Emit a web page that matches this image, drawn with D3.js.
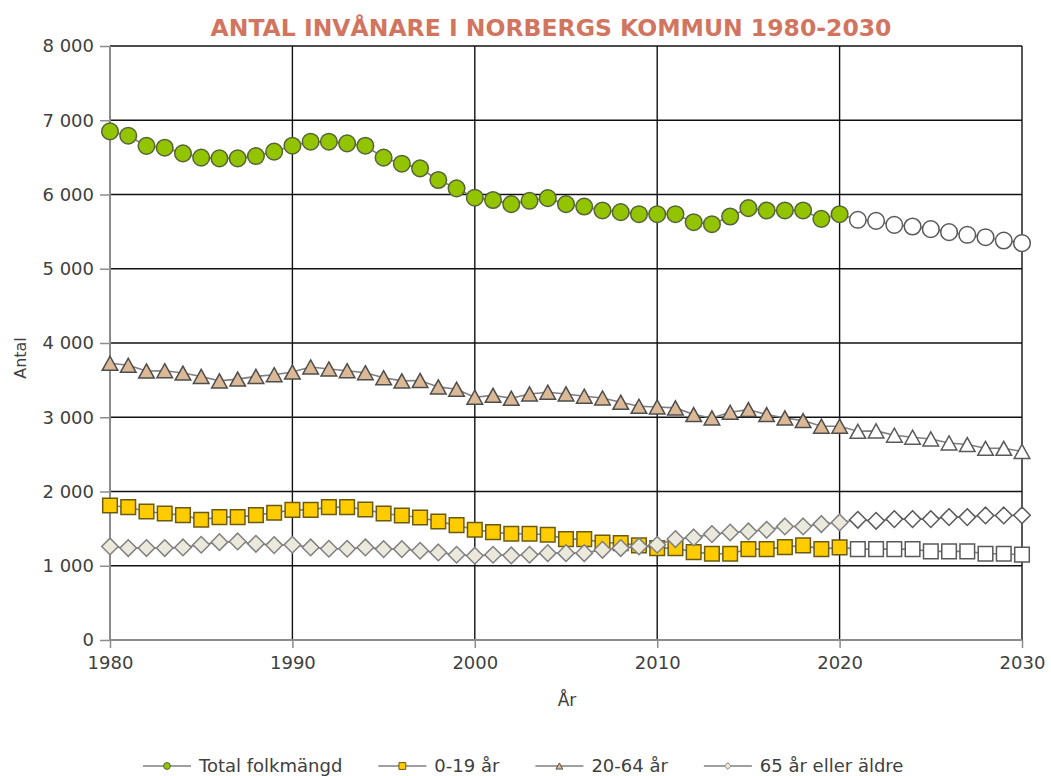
<!DOCTYPE html>
<html>
<head>
<meta charset="utf-8">
<script src="https://cdn.jsdelivr.net/npm/d3@7"></script>
<style>
  body { margin: 0; background: #fff; }
  text { font-family: "DejaVu Sans", sans-serif; fill: #404040; }
</style>
</head>
<body>
<svg id="chart" width="1051" height="776"></svg>
<script>
"use strict"

// data
const years = d3.range(1980, 2031)
const lastObserved = 2020

const total = [6850, 6792, 6655, 6630, 6554, 6496, 6487, 6487, 6518, 6577,
  6657, 6711, 6711, 6688, 6657, 6496, 6415, 6352, 6195, 6083,
  5957, 5926, 5870, 5915, 5951, 5870, 5838, 5785, 5762, 5735,
  5735, 5735, 5627, 5600, 5704, 5816, 5785, 5785, 5785, 5672,
  5735, 5659, 5645, 5591, 5569, 5533, 5493, 5457, 5425, 5380, 5345]

const age0_19 = [1812, 1789, 1731, 1704, 1682, 1619, 1655, 1655, 1682, 1713,
  1753, 1753, 1789, 1789, 1758, 1704, 1677, 1650, 1596, 1547,
  1484, 1453, 1430, 1430, 1417, 1359, 1359, 1314, 1305, 1274,
  1238, 1238, 1184, 1161, 1161, 1224, 1224, 1251, 1274, 1224,
  1247, 1224, 1224, 1224, 1224, 1193, 1193, 1193, 1161, 1161, 1150]

const age20_64 = [3727, 3700, 3623, 3627, 3595, 3550, 3490, 3514, 3550, 3573,
  3609, 3677, 3650, 3627, 3600, 3532, 3490, 3495, 3409, 3377,
  3270, 3295, 3256, 3314, 3337, 3314, 3283, 3260, 3202, 3148,
  3139, 3126, 3036, 2991, 3067, 3103, 3036, 2991, 2955, 2879,
  2879, 2811, 2816, 2758, 2731, 2708, 2654, 2632, 2582, 2582, 2540]

const age65 = [1260, 1238, 1238, 1238, 1247, 1283, 1318, 1327, 1296, 1278,
  1283, 1247, 1229, 1229, 1247, 1224, 1224, 1202, 1179, 1148,
  1135, 1148, 1139, 1148, 1170, 1170, 1170, 1215, 1238, 1260,
  1283, 1359, 1381, 1426, 1448, 1462, 1484, 1529, 1529, 1561,
  1583, 1619, 1605, 1628, 1628, 1628, 1655, 1655, 1677, 1677, 1680]

const seriesNames = ["Total folkmängd", "0-19 år", "20-64 år", "65 år eller äldre"]
const yTicks = [0, 1000, 2000, 3000, 4000, 5000, 6000, 7000, 8000]
const xTicks = [1980, 1990, 2000, 2010, 2020, 2030]

const series = [
  { name: seriesNames[0], values: total, shape: "circle", fill: "#92c500", stroke: "#56633a", size: 8.3 },
  { name: seriesNames[1], values: age0_19, shape: "square", fill: "#ffcc00", stroke: "#6b5a12", size: 7.3 },
  { name: seriesNames[2], values: age20_64, shape: "triangle", fill: "#dbb896", stroke: "#4d4d4d", size: 7.8 },
  { name: seriesNames[3], values: age65, shape: "diamond", fill: "#ebe8dc", stroke: "#808080", size: 8.3 },
]

const width = 1051
const height = 776
const margin = { top: 46, right: 29, bottom: 136, left: 110 }

const svg = d3.select("#chart")

const x = d3.scaleLinear().domain([1980, 2030]).range([margin.left, width - margin.right])
const y = d3.scaleLinear().domain([0, 8000]).range([height - margin.bottom, margin.top])

const locale = d3.formatLocale({ decimal: ",", thousands: "\u00a0", grouping: [3], currency: ["", ""] })
const fmt = locale.format(",")

function shapePath(shape, r) {
  if (shape === "circle") {
    return d3.symbol(d3.symbolCircle, Math.PI * r * r)()
  }
  if (shape === "square") {
    return `M${-r},${-r}H${r}V${r}H${-r}Z`
  }
  if (shape === "triangle") {
    return `M0,${-r * 0.9}L${r},${r * 0.9}L${-r},${r * 0.9}Z`
  }
  return `M0,${-r}L${r},0L0,${r}L${-r},0Z`
}

// title
svg.append("text")
  .attr("x", 551)
  .attr("y", 36)
  .attr("text-anchor", "middle")
  .style("font-size", "23.5px")
  .style("font-weight", "bold")
  .style("fill", "#d27560")
  .text("ANTAL INVÅNARE I NORBERGS KOMMUN 1980-2030")

// gridlines
const grid = svg.append("g")
grid.selectAll("line.h")
  .data(yTicks.filter(d => d > 0))
  .enter().append("line")
    .attr("x1", x(1980)).attr("x2", x(2030))
    .attr("y1", d => y(d)).attr("y2", d => y(d))
    .attr("stroke", "#111").attr("stroke-width", 1.4)
grid.selectAll("line.v")
  .data(xTicks.filter(d => d > 1980))
  .enter().append("line")
    .attr("x1", d => x(d)).attr("x2", d => x(d))
    .attr("y1", y(8000)).attr("y2", y(0))
    .attr("stroke", "#111").attr("stroke-width", 1.4)

// axes
const yAxis = svg.append("g")
  .attr("transform", `translate(${x(1980)},0)`)
  .call(d3.axisLeft(y).tickValues(yTicks).tickFormat(fmt).tickSize(10).tickPadding(6))
const xAxis = svg.append("g")
  .attr("transform", `translate(0,${y(0)})`)
  .call(d3.axisBottom(x).tickValues(xTicks).tickFormat(d3.format("d")).tickSize(8).tickPadding(8))

;[yAxis, xAxis].forEach(a => {
  a.select(".domain").attr("stroke", "#8c8c8c").attr("stroke-width", 2)
  a.selectAll(".tick line").attr("stroke", "#8c8c8c").attr("stroke-width", 1.5)
  a.selectAll(".tick text").style("font-size", "18px").style("font-family", "DejaVu Sans").attr("fill", "#404040")
})
xAxis.select(".domain").attr("d", `M${x(1980)},0H${x(2030)}`)
yAxis.select(".domain").attr("d", `M0,${y(0)}V${y(8000)}`)

// axis titles
svg.append("text")
  .attr("transform", `translate(26,${y(4000) + 15}) rotate(-90)`)
  .attr("text-anchor", "middle")
  .style("font-size", "16px")
  .text("Antal")
svg.append("text")
  .attr("x", (x(1980) + x(2030)) / 2 + 1)
  .attr("y", 706)
  .attr("text-anchor", "middle")
  .style("font-size", "17px")
  .text("År")

// series
const line = d3.line().x(d => x(d.year)).y(d => y(d.value))

series.forEach(s => {
  const pts = years.map((year, i) => ({ year: year, value: s.values[i] }))
  const g = svg.append("g")
  g.append("path")
    .datum(pts)
    .attr("d", line)
    .attr("fill", "none")
    .attr("stroke", "#7f7f7f")
    .attr("stroke-width", 1.6)
  g.selectAll("path.marker")
    .data(pts)
    .enter().append("path")
      .attr("class", "marker")
      .attr("transform", d => `translate(${x(d.year)},${y(d.value)})`)
      .attr("d", shapePath(s.shape, s.size))
      .attr("fill", d => d.year <= lastObserved ? s.fill : "#ffffff")
      .attr("stroke", d => d.year <= lastObserved ? s.stroke : "#595959")
      .attr("stroke-width", 1.5)
})

// legend
const legend = svg.append("g").attr("transform", "translate(0,766)")
let lx = 143
series.forEach(s => {
  const item = legend.append("g").attr("transform", `translate(${lx},0)`)
  item.append("line")
    .attr("x1", 0).attr("x2", 48)
    .attr("stroke", "#7f7f7f").attr("stroke-width", 1.6)
  item.append("path")
    .attr("transform", "translate(24,0)")
    .attr("d", shapePath(s.shape, 3.4))
    .attr("fill", s.fill)
    .attr("stroke", s.stroke)
    .attr("stroke-width", 1)
  const t = item.append("text")
    .attr("x", 56)
    .attr("dy", "0.35em")
    .style("font-size", "18px")
    .text(s.name)
  lx += 56 + t.node().getComputedTextLength() + 36
})
</script>
</body>
</html>
